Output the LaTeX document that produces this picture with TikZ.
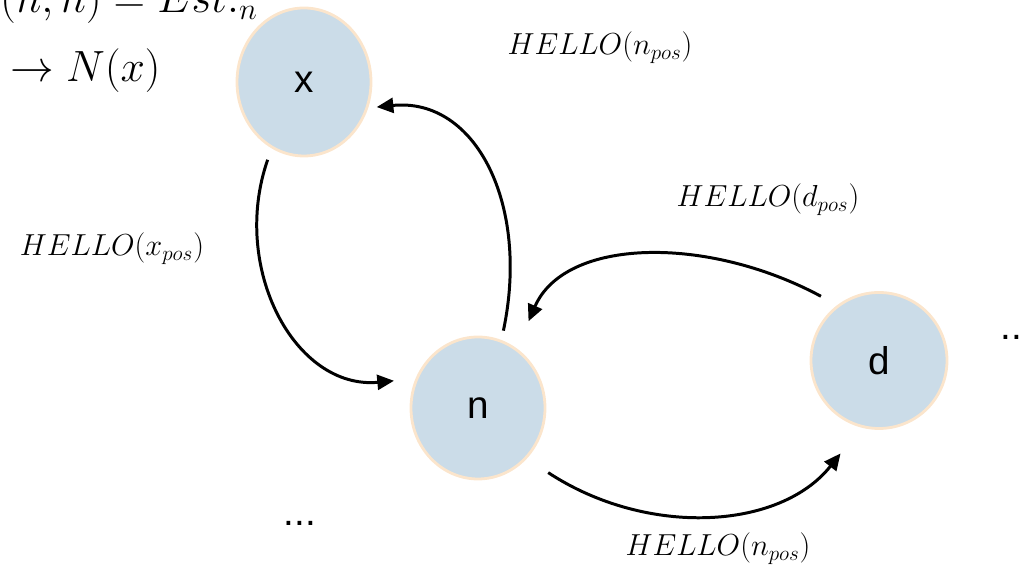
\documentclass[tikz,border=0pt]{standalone}
\usepackage{amsmath,amssymb}
\usepackage{fontspec}
\setsansfont{Liberation Sans}
\usepackage{tikz}
\usetikzlibrary{shapes.geometric,arrows.meta}

\definecolor{hostfill}{RGB}{203,220,232}
\definecolor{hostedge}{RGB}{251,229,204}
% roomier subscripts for the message labels
\DeclareMathSizes{17}{17}{13}{10}

\begin{document}
\begin{tikzpicture}[
    host/.style={shape=ellipse, draw=hostedge, line width=1.6pt, fill=hostfill, inner sep=0pt,
        font=\sffamily\fontsize{22}{26}\selectfont},
    more/.style={inner sep=0pt, font=\sffamily\fontsize{22}{26}\selectfont},
    msg/.style={line width=1.7pt, -{Triangle[length=9.5pt,width=8.5pt]}},
    lbl/.style={anchor=base, inner sep=0pt, font=\fontsize{17}{20}\selectfont},
    big/.style={anchor=base west, inner sep=0pt, font=\fontsize{24}{28}\selectfont}]
    \clip (0,0) rectangle (20.46,11.5);

    % the three hosts
    \node[host, minimum width=2.68cm, minimum height=2.96cm] (x) at (6.08,9.86) {x};
    \node[host, minimum width=2.68cm, minimum height=2.84cm] (n) at (9.56,3.34) {n};
    \node[host, minimum width=2.72cm, minimum height=2.72cm] (d) at (17.58,4.29) {d};

    \node[big] (est) at (0,11.24) {$(n,n) = Est._n$};
    \node[big] (nbr) at (0.2,9.86) {$\rightarrow N(x)$};

    \node[more, anchor=base] (moreleft) at (6.0,0.98) {...};
    \node[more, anchor=base west] (moreright) at (20.0,4.70) {...};

    % hello messages
    \draw[msg, shorten <=0.24cm, shorten >=0.43cm] (x.244) .. controls (4.6,6.14) and (5.9,3.7) .. (n.155);
    \draw[msg, shorten <=0.19cm, shorten >=0.17cm] (n.71) .. controls (10.6,7.4) and (9.52,9.56) .. (x.-22);
    \draw[msg, shorten <=0.37cm, shorten >=0.59cm] (d.127) .. controls (14.14,6.8) and (11.3,6.75) .. (n.57);
    \draw[msg, shorten <=0.51cm, shorten >=0.66cm] (n.-46) .. controls (12.94,0.75) and (15.6,0.9) .. (d.255);

    \node[lbl] (hn) at (12.0,10.40) {$HELLO(n_{pos})$};
    \node[lbl] (hd) at (15.36,7.36) {$HELLO(d_{pos})$};
    \node[lbl] (hx) at (2.24,6.38) {$HELLO(x_{pos})$};
    \node[lbl] (hnb) at (14.36,0.38) {$HELLO(n_{pos})$};
\end{tikzpicture}
\end{document}
